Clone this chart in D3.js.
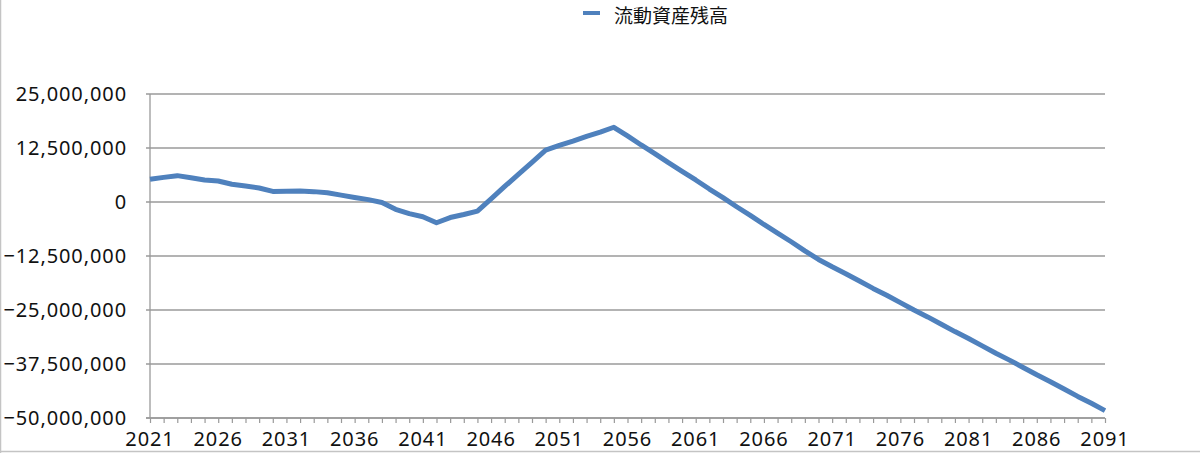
<!DOCTYPE html>
<html>
<head>
<meta charset="utf-8">
<script src="https://cdn.jsdelivr.net/npm/d3@7"></script>
<style>
  body { margin: 0; background: #fff; }
  text { font-family: "Noto Sans CJK JP", "Noto Sans", sans-serif; fill: #111; }
  text.num { font-family: "Noto Sans", sans-serif; }
</style>
</head>
<body>
<script>
var width = 1200, height = 453;

// 流動資産残高 (yen), one value per year 2021..2091
var years = d3.range(2021, 2092);
var balance = [
  5250000, 5700000, 6100000, 5600000, 5100000, 4850000, 4100000, 3700000, 3250000, 2450000,
  2500000, 2550000, 2400000, 2150000, 1600000, 1050000, 550000, -100000, -1700000, -2700000,
  -3400000, -4800000, -3600000, -2900000, -2100000, 700000, 3600000, 6400000, 9200000, 12000000,
  13100000, 14100000, 15200000, 16200000, 17300000, 15300000, 13200000, 11200000, 9100000, 7100000,
  5100000, 3000000, 1000000, -1100000, -3100000, -5200000, -7200000, -9200000, -11300000, -13300000,
  -15000000, -16600000, -18300000, -20000000, -21600000, -23300000, -25000000, -26600000, -28300000, -30000000,
  -31600000, -33300000, -35000000, -36600000, -38300000, -40000000, -41600000, -43300000, -45000000, -46600000,
  -48300000
];
var yTicks = [-50000000, -37500000, -25000000, -12500000, 0, 12500000, 25000000];
var xLabels = [2021, 2026, 2031, 2036, 2041, 2046, 2051, 2056, 2061, 2066, 2071, 2076, 2081, 2086, 2091];
var seriesName = "流動資産残高";

var x = d3.scaleLinear().domain([2021, 2091]).range([150, 1105]);
var y = d3.scaleLinear().domain([-50000000, 25000000]).range([418, 94]);

var svg = d3.select("body")
  .append("svg")
  .attr("width", width)
  .attr("height", height);

// frame edges
svg.append("line").attr("x1", 0.5).attr("x2", 0.5).attr("y1", 0).attr("y2", height)
  .attr("stroke", "#c4c4c4").attr("stroke-width", 1.5);
svg.append("line").attr("x1", 0).attr("x2", width).attr("y1", 451.5).attr("y2", 451.5)
  .attr("stroke", "#c4c4c4").attr("stroke-width", 1.5);

// gridlines + y labels
svg.selectAll(".grid")
  .data(yTicks)
  .enter()
  .append("line")
  .attr("class", "grid")
  .attr("x1", 146)
  .attr("x2", 1105)
  .attr("y1", function(d) { return y(d) })
  .attr("y2", function(d) { return y(d) })
  .attr("stroke", "#9a9a9a")
  .attr("stroke-width", 1.3);

svg.selectAll(".ylab")
  .data(yTicks)
  .enter()
  .append("text")
  .attr("class", "ylab num")
  .attr("x", 127)
  .attr("y", function(d) { return y(d) })
  .attr("dy", "0.36em")
  .attr("text-anchor", "end")
  .style("font-size", "20px")
  .style("letter-spacing", "0.9px")
  .text(function(d) { return d3.format(",")(d) });

// axes
svg.append("line").attr("x1", 150).attr("x2", 150).attr("y1", 94).attr("y2", 418)
  .attr("stroke", "#9a9a9a").attr("stroke-width", 1.3);

var xAxis = d3.axisBottom(x)
  .tickValues(years)
  .tickSize(5)
  .tickFormat("");

var gx = svg.append("g")
  .attr("transform", "translate(0,418)")
  .call(xAxis);
gx.select(".domain").attr("stroke", "#9a9a9a").attr("stroke-width", 1.3).attr("d", "M146,0H1105");
gx.selectAll(".tick line").attr("stroke", "#9a9a9a").attr("stroke-width", 1.2);

svg.selectAll(".xlab")
  .data(xLabels)
  .enter()
  .append("text")
  .attr("class", "xlab num")
  .attr("x", function(d) { return x(d) })
  .attr("y", 446)
  .attr("text-anchor", "middle")
  .style("font-size", "20px")
  .style("letter-spacing", "0.9px")
  .text(function(d) { return d });

// series line
var line = d3.line()
  .x(function(d, i) { return x(years[i]) })
  .y(function(d) { return y(d) });

svg.append("path")
  .datum(balance)
  .attr("d", line)
  .attr("fill", "none")
  .attr("stroke", "#4f81bd")
  .attr("stroke-width", 5)
  .attr("stroke-linejoin", "round");

// legend
svg.append("line").attr("x1", 583).attr("x2", 600).attr("y1", 13).attr("y2", 13)
  .attr("stroke", "#4f81bd").attr("stroke-width", 4);
svg.append("text")
  .attr("x", 614)
  .attr("y", 23)
  .style("font-size", "19px")
  .text(seriesName);
</script>
</body>
</html>
